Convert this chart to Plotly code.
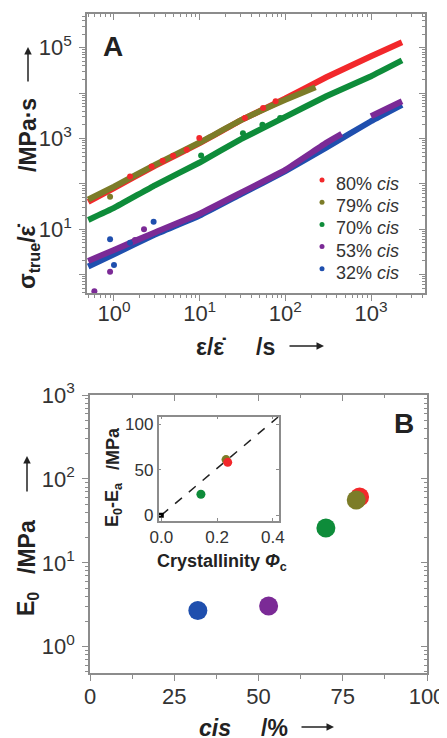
import plotly.graph_objects as go

# ---------------- Panel A data ----------------
red_x = [0.5, 1, 3, 10, 30, 100, 300, 1000, 2300]
red_y = [40, 81, 250, 790, 2500, 7600, 22400, 65000, 132000]
olive_x = [0.5, 1, 3, 10, 30, 100, 225]
olive_y = [45, 87, 263, 813, 2500, 7100, 13500]
green_x = [0.5, 1, 3, 10, 30, 100, 300, 1000, 2300]
green_y = [16, 29.5, 93, 295, 955, 3000, 8500, 23500, 52500]
purple_x = [0.5, 1, 3, 10, 30, 100, 300, 455, None, 1000, 2300]
purple_y = [2.0, 3.5, 8.5, 22, 63, 204, 800, 1260, None, 3100, 6600]
blue_x = [0.5, 1, 3, 10, 30, 100, 300, 1000, 2300]
blue_y = [1.5, 2.8, 7.6, 20, 59, 190, 630, 2400, 5500]

red_out_x = [1.54, 2.75, 3.7, 4.9, 7.05, 9.9, 33.7, 55, 77]
red_out_y = [145, 240, 322, 415, 565, 1020, 2820, 4680, 6600]
olive_out_x = [0.9]
olive_out_y = [52]
green_out_x = [10.4, 32, 54, 87]
green_out_y = [420, 1310, 2000, 2830]
purple_out_x = [0.59, 0.90, 1.76, 2.24]
purple_out_y = [0.43, 1.16, 5.8, 10]
blue_out_x = [0.90, 1.0, 1.54, 2.9]
blue_out_y = [6.0, 1.63, 5.0, 14.7]

legend_labels = ["80% <i>cis</i>", "79% <i>cis</i>", "70% <i>cis</i>", "53% <i>cis</i>", "32% <i>cis</i>"]

# ---------------- Panel B data ----------------
cis_pct = [32, 53, 70, 80, 79]
E0 = [2.7, 3.05, 26, 61, 56]

# inset
phi_c = [0.142, 0.232, 0.238]
dE = [23, 61, 58]
fit_x = [0, 0.42]
fit_y = [0, 108]
origin_x = [0]
origin_y = [0]

# tick labels
A_x_tickvals = [1, 10, 100, 1000]
A_x_ticktext = ["10<sup>0</sup>", "10<sup>1</sup>", "10<sup>2</sup>", "10<sup>3</sup>"]
A_y_major = [1, 10, 100, 1000, 1e4, 1e5]
A_y_tickvals = [10, 1000, 1e5]
A_y_ticktext = ["10<sup>1</sup>", "10<sup>3</sup>", "10<sup>5</sup>"]
B_x_tickvals = [0, 25, 50, 75, 100]
B_x_ticktext = ["0", "25", "50", "75", "100"]
B_x_minor = [12.5, 37.5, 62.5, 87.5]
B_y_tickvals = [1, 10, 100, 1000]
B_y_ticktext = ["10<sup>0</sup>", "10<sup>1</sup>", "10<sup>2</sup>", "10<sup>3</sup>"]
I_x_tickvals = [0, 0.2, 0.4]
I_x_ticktext = ["0.0", "0.2", "0.4"]
I_y_tickvals = [0, 50, 100]

RED, OLIVE, GREEN, PURPLE, BLUE = "#f2282b", "#7c7c28", "#0e8c3a", "#7b2a96", "#1f4fae"
AX = "#8c8c8c"
TXT = "#333333"
FONT = "Liberation Sans, Arial, sans-serif"

# the page body adds an 8px margin; the figure is sized to fit the 447x738 window
OFF = 8
W, H = 447 - OFF, 738 - OFF
def fx(p): return (p - OFF) / W
def fy(p): return 1 - (p - OFF) / H

def log_minor(lo, hi):
    vals = []
    for d in range(lo, hi + 1):
        for k in range(2, 10):
            vals.append(k * 10 ** d)
    return vals

fig = go.Figure()

# Panel A lines
for xs, ys, c in [(blue_x, blue_y, BLUE), (purple_x, purple_y, PURPLE),
                  (green_x, green_y, GREEN), (red_x, red_y, RED), (olive_x, olive_y, OLIVE)]:
    fig.add_trace(go.Scatter(x=xs, y=ys, mode="lines",
                             line=dict(color=c, width=6, shape="spline", smoothing=0.3),
                             connectgaps=False, showlegend=False, xaxis="x", yaxis="y"))
for xs, ys, c in [(blue_out_x, blue_out_y, BLUE), (purple_out_x, purple_out_y, PURPLE),
                  (green_out_x, green_out_y, GREEN), (red_out_x, red_out_y, RED),
                  (olive_out_x, olive_out_y, OLIVE)]:
    fig.add_trace(go.Scatter(x=xs, y=ys, mode="markers", marker=dict(color=c, size=6),
                             showlegend=False, xaxis="x", yaxis="y"))

# Panel B points
for xv, yv, c in zip(cis_pct, E0, [BLUE, PURPLE, GREEN, RED, OLIVE]):
    fig.add_trace(go.Scatter(x=[xv], y=[yv], mode="markers", marker=dict(color=c, size=19),
                             showlegend=False, xaxis="x2", yaxis="y2"))

# Inset
fig.add_trace(go.Scatter(x=fit_x, y=fit_y, mode="lines", line=dict(color="#222", width=1.5, dash="dash"),
                         showlegend=False, xaxis="x4", yaxis="y4"))
fig.add_trace(go.Scatter(x=origin_x, y=origin_y, mode="markers", marker=dict(color="black", size=5, symbol="square"),
                         showlegend=False, xaxis="x4", yaxis="y4"))
for xv, yv, c in zip(phi_c, dE, [GREEN, OLIVE, RED]):
    fig.add_trace(go.Scatter(x=[xv], y=[yv], mode="markers", marker=dict(color=c, size=9),
                             showlegend=False, xaxis="x4", yaxis="y4"))

# empty traces so that the extra tick axes are drawn
for xa, ya in [("x3", "y"), ("x6", "y"), ("x", "y3"), ("x", "y6"),
               ("x5", "y2"), ("x7", "y2"), ("x2", "y5"), ("x2", "y7")]:
    fig.add_trace(go.Scatter(x=[None], y=[None], mode="markers", showlegend=False,
                             hoverinfo="skip", xaxis=xa, yaxis=ya))

tickfont = dict(family=FONT, size=22, color=TXT)
common = dict(showgrid=False, zeroline=False, showline=True, linecolor=AX, linewidth=1.5,
              tickcolor=AX, tickwidth=1.2, automargin=False)

A_xdom = [fx(87), fx(425)]
A_ydom = [fy(293), fy(14)]
A_xr = [-0.315, 3.63]
A_yr = [-0.406, 5.744]
B_xdom = [fx(90), fx(427)]
B_ydom = [fy(673.3), fy(395)]
B_xr = [0, 100]
B_yr = [-0.317, 3.0]

xminA = log_minor(-1, 3)
yminA = log_minor(-1, 5)
yminB = log_minor(-1, 2)

def label_axis(dom, rng, anchor, side, vals, text, typ="linear", standoff=0):
    return dict(type=typ, domain=dom, range=rng, anchor=anchor, side=side, tickvals=vals,
                ticktext=text, ticks="", tickfont=tickfont, ticklabelstandoff=standoff, **common)

def tick_axis(dom, rng, anchor, over, side, vals, minor, inout, typ="linear"):
    return dict(type=typ, domain=dom, range=rng, anchor=anchor, overlaying=over, side=side,
                tickvals=vals, ticks=inout, ticklen=6, showticklabels=False,
                minor=dict(tickvals=minor, ticks=inout, ticklen=3.5, tickcolor=AX), **common)

fig.update_layout(
    width=W, height=H, margin=dict(l=0, r=0, t=0, b=0, autoexpand=False),
    paper_bgcolor="white", plot_bgcolor="white", showlegend=False,
    font=dict(family=FONT, color=TXT),
    # panel A
    xaxis=label_axis(A_xdom, A_xr, "y", "bottom", A_x_tickvals, A_x_ticktext, "log", 0),
    xaxis6=tick_axis(A_xdom, A_xr, "y", "x", "bottom", A_x_tickvals, xminA, "outside", "log"),
    xaxis3=tick_axis(A_xdom, A_xr, "y", "x", "top", A_x_tickvals, xminA, "inside", "log"),
    yaxis=label_axis(A_ydom, A_yr, "x", "left", A_y_tickvals, A_y_ticktext, "log", 9),
    yaxis6=tick_axis(A_ydom, A_yr, "x", "y", "left", A_y_major, yminA, "outside", "log"),
    yaxis3=tick_axis(A_ydom, A_yr, "x", "y", "right", A_y_major, yminA, "inside", "log"),
    # panel B
    xaxis2=label_axis(B_xdom, B_xr, "y2", "bottom", B_x_tickvals, B_x_ticktext, "linear", 3),
    xaxis7=tick_axis(B_xdom, B_xr, "y2", "x2", "bottom", B_x_tickvals, B_x_minor, "outside"),
    xaxis5=tick_axis(B_xdom, B_xr, "y2", "x2", "top", B_x_tickvals, B_x_minor, "inside"),
    yaxis2=label_axis(B_ydom, B_yr, "x2", "left", B_y_tickvals, B_y_ticktext, "log", 9),
    yaxis7=tick_axis(B_ydom, B_yr, "x2", "y2", "left", B_y_tickvals, yminB, "outside", "log"),
    yaxis5=tick_axis(B_ydom, B_yr, "x2", "y2", "right", B_y_tickvals, yminB, "inside", "log"),
    # inset
    xaxis4=dict(domain=[fx(158.5), fx(278.5)], range=[-0.01, 0.42], anchor="y4",
                tickvals=I_x_tickvals, ticktext=I_x_ticktext, ticks="inside", ticklen=3, mirror="allticks",
                tickfont=dict(family=FONT, size=17, color=TXT), **common),
    yaxis4=dict(domain=[fy(520.7), fy(416.7)], range=[-6, 108], anchor="x4",
                tickvals=I_y_tickvals, ticks="inside", ticklen=3, mirror="allticks",
                tickfont=dict(family=FONT, size=17, color=TXT), **common),
)

EDOT = "ε\u0307"
ann = []
shapes = []
def text_ann(t, x, y, size, angle=0, xanchor="center"):
    ann.append(dict(text=t, x=fx(x), y=fy(y), xref="paper", yref="paper", showarrow=False,
                    xanchor=xanchor, yanchor="middle", textangle=angle,
                    font=dict(family=FONT, size=size, color="#222")))
def arrow_ann(x, y, ax, ay):
    ann.append(dict(text="", x=fx(x), y=fy(y), xref="paper", yref="paper", showarrow=True,
                    ax=ax, ay=ay, arrowhead=2, arrowsize=1, arrowwidth=1.5, arrowcolor="#222",
                    standoff=0, startstandoff=0))

TS = 23
# Panel A titles
text_ann("<b>σ<sub>true</sub>/" + EDOT + "</b>", 28, 257, TS, -90)
text_ann("<b>/MPa·s</b>", 28, 135, TS, -90)
arrow_ann(28, 47, 0, 36)
text_ann("<b>ε/" + EDOT + "</b>", 211, 347, TS)
text_ann("<b>/s</b>", 265, 347, TS)
arrow_ann(324, 346, -36, 0)
text_ann("<b>A</b>", 113, 47, 28)

# legend (manual, to match entry spacing)
for i, (lab, c) in enumerate(zip(legend_labels, [RED, OLIVE, GREEN, PURPLE, BLUE])):
    yy = 184 + 22.2 * i
    text_ann(lab, 334, yy, 18, 0, "left")
    ann[-1]["font"]["color"] = TXT
    shapes.append(dict(type="circle", xref="paper", yref="paper",
                       x0=fx(322 - 2.5), x1=fx(322 + 2.5), y0=fy(yy - 4 + 2.5), y1=fy(yy - 4 - 2.5),
                       fillcolor=c, line=dict(width=0)))

# Panel B titles
text_ann("<b>E<sub>0</sub></b>", 27, 604, TS, -90)
text_ann("<b>/MPa</b>", 27, 547, TS, -90)
arrow_ann(27, 456, 0, 37)
text_ann("<b><i>cis</i></b>", 215, 728, TS)
text_ann("<b>/%</b>", 274, 728, TS)
arrow_ann(334, 727, -34, 0)
text_ann("<b>B</b>", 404, 423, 28)

# Inset titles
text_ann("<b>E<sub>0</sub>-E<sub>a</sub></b>", 113, 505, 18, -90)
text_ann("<b>/MPa</b>", 113, 449, 18, -90)
text_ann("<b>Crystallinity <i>Φ</i><sub>c</sub></b>", 222, 562, 18)

fig.update_layout(annotations=ann, shapes=shapes)
fig.write_html("out.html")
